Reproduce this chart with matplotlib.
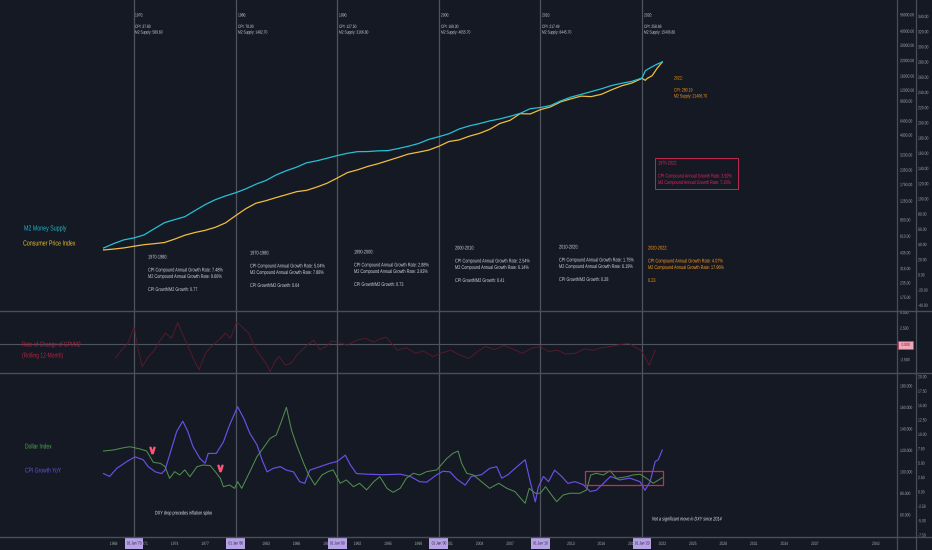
import matplotlib
matplotlib.use("Agg")
import matplotlib.pyplot as plt
from matplotlib.patheffects import AbstractPathEffect
from matplotlib.transforms import Affine2D
from matplotlib.patches import Rectangle
from matplotlib.lines import Line2D

plt.rcParams['font.family'] = ['Liberation Sans', 'DejaVu Sans']

# ---------------- data ----------------
MACRO_YEARS = [1967, 1968, 1969, 1970, 1971, 1972, 1973, 1974, 1975, 1976, 1977, 1978, 1979,
               1980, 1981, 1982, 1983, 1984, 1985, 1986, 1987, 1988, 1989, 1990, 1991, 1992,
               1993, 1994, 1995, 1996, 1997, 1998, 1999, 2000, 2001, 2002, 2003, 2004, 2005,
               2006, 2007, 2008, 2009, 2010, 2011, 2012, 2013, 2014, 2015, 2016, 2017, 2018,
               2019, 2020, 2020.33, 2020.5, 2021, 2021.5, 2022]
M2_SUPPLY = [480.2, 525.0, 567.0, 589.6, 628.0, 712.0, 805.0, 857.0, 909.0, 1030.0, 1163.0,
             1287.0, 1389.0, 1482.7, 1606.0, 1765.0, 1908.0, 2136.0, 2326.0, 2500.0, 2735.0,
             2847.0, 2998.0, 3166.8, 3316.0, 3430.0, 3437.0, 3486.0, 3507.0, 3655.0, 3830.0,
             4050.0, 4400.0, 4655.7, 4945.0, 5450.0, 5805.0, 6080.0, 6420.0, 6690.0, 7050.0,
             7490.0, 8245.0, 8445.7, 8800.0, 9660.0, 10450.0, 11030.0, 11690.0, 12370.0,
             13230.0, 13850.0, 14410.0, 15406.8, 17900.0, 18300.0, 19400.0, 20500.0, 21406.7]
CPI = [32.9, 34.1, 35.6, 37.8, 39.9, 41.2, 42.7, 47.2, 52.3, 55.9, 58.7, 62.7, 68.5,
       78.0, 87.2, 94.4, 97.8, 101.9, 105.7, 109.6, 111.4, 115.7, 120.7, 127.5, 134.7, 138.3,
       142.8, 146.3, 150.5, 154.7, 159.1, 161.6, 164.3, 169.3, 175.6, 177.7, 182.6, 186.3, 191.6,
       199.3, 203.4, 212.2, 211.9, 217.5, 221.2, 227.8, 231.7, 235.3, 234.7, 237.7, 243.6, 248.9,
       252.6, 258.7, 256.1, 258.5, 262.2, 272.2, 280.2]

ROC_YEARS = [1968.2, 1968.8, 1969.4, 1970.0, 1970.4, 1970.8, 1971.4, 1972.0, 1972.5, 1973.1,
             1973.7, 1974.3, 1974.7, 1975.2, 1975.8, 1976.4, 1977.0, 1977.6, 1978.3,
             1979.0, 1979.5, 1980.1, 1980.7, 1981.3, 1981.9, 1982.5, 1983.0, 1983.4, 1983.9,
             1984.3, 1984.9, 1985.5, 1986.0, 1986.5, 1987.1, 1987.7, 1988.3, 1988.9,
             1989.5, 1990.1, 1991.0, 1991.9, 1992.8, 1993.6, 1994.2, 1994.8, 1995.3, 1995.9,
             1996.8, 1997.7, 1998.5, 1999.4, 2000.3, 2001.2, 2002.1, 2003.0, 2003.8, 2004.6,
             2005.5, 2006.4, 2007.3, 2008.2, 2009.1, 2010.0, 2010.8, 2011.7, 2012.5, 2013.4,
             2014.3, 2015.2, 2016.0, 2016.9, 2017.8, 2018.7, 2019.3, 2019.9, 2020.3, 2020.7, 2021.3]
ROC_CPI_M2 = [-2.2, -0.9, 0.1, 2.7, -0.8, -3.6, -2.1, -1.0, 0.4, 1.7,
              0.9, 3.4, 1.8, 0.1, -2.2, -4.1, -1.6, -0.4, 0.6,
              1.7, 0.9, 3.5, 2.6, 1.7, -0.6, -2.0, -3.1, -4.4, -2.7,
              -2.0, -3.4, -3.0, -1.8, -1.0, -0.1, 0.6, -0.9, -0.4,
              0.5, 0.3, -0.2, 0.6, 0.9, 0.3, 0.8, 1.1, 0.2, -1.0,
              -0.6, -1.5, -1.1, -2.0, -1.4, -1.0, -1.8, -2.3, -1.2, -0.4,
              -0.9, -0.2, -0.8, -1.5, -0.7, -0.4, -1.2, -1.0, -1.6, -1.5,
              -0.8, -1.0, -0.6, -0.4, -0.1, 0.1, -0.5, -1.0, -2.1, -3.4, -1.0]

CPI_YOY_YEARS = [1967.0, 1967.6, 1968.3, 1969.3, 1970.1, 1970.9, 1971.4, 1972.1, 1972.7, 1973.05,
                 1973.5, 1974.2, 1974.8, 1975.3, 1975.8, 1976.5, 1977.0, 1977.3, 1978.1, 1978.8,
                 1979.4, 1980.2, 1980.8, 1981.4, 1982.1, 1982.6, 1983.1, 1983.7, 1984.4, 1985.0,
                 1985.7, 1986.3, 1986.8, 1987.3, 1988.3, 1989.3, 1990.0, 1990.8, 1991.3, 1991.9,
                 1992.9, 1994.5, 1996.2, 1997.2, 1998.1, 1998.8, 1999.8, 2000.4, 2001.1, 2001.8,
                 2002.6, 2003.2, 2004.2, 2005.0, 2005.7, 2006.2, 2006.8, 2007.7, 2008.5, 2009.0,
                 2009.5, 2009.8, 2010.3, 2010.8, 2011.4, 2012.1, 2012.7, 2013.4, 2014.2, 2014.9,
                 2015.5, 2016.2, 2016.9, 2017.8, 2018.8, 2019.8, 2020.3, 2020.8, 2021.3, 2021.6, 2022.0]
CPI_YOY = [3.2, 2.7, 4.1, 5.3, 6.1, 5.6, 4.4, 3.5, 3.2, 3.8,
           6.4, 10.5, 12.3, 10.5, 7.9, 5.8, 5.0, 6.7, 6.7, 8.7,
           11.6, 14.8, 12.8, 10.2, 8.2, 5.6, 3.5, 4.1, 4.4, 3.8,
           3.5, 1.8, 1.5, 3.8, 4.4, 5.0, 5.3, 6.4, 4.7, 3.2,
           3.1, 3.0, 3.1, 2.7, 1.8, 1.7, 3.0, 3.6, 3.5, 2.2,
           1.2, 2.7, 3.0, 4.1, 4.4, 2.4, 3.0, 4.4, 5.6, 1.8,
           -1.7, 0.9, 2.7, 1.8, 3.8, 2.7, 1.5, 1.8, 1.3, 0.1,
           0.3, 1.5, 2.7, 2.1, 2.4, 1.8, 0.3, 1.8, 5.3, 5.6, 7.3]

DXY_YEARS = [1967.0, 1968.0, 1969.0, 1969.6, 1970.6, 1971.25, 1971.9, 1972.6, 1973.05, 1973.5,
             1974.0, 1974.5, 1975.0, 1975.5, 1976.2, 1976.8, 1977.5, 1978.0, 1978.5, 1978.8,
             1979.4, 1979.9, 1980.2, 1980.6, 1981.4, 1982.1, 1982.7, 1983.4, 1984.0, 1984.5,
             1985.0, 1985.5, 1986.0, 1986.7, 1987.2, 1987.8, 1988.5, 1989.1, 1989.6, 1990.3,
             1990.9, 1991.6, 1992.2, 1992.9, 1993.6, 1994.2, 1994.9, 1995.5, 1996.2, 1996.8,
             1997.5, 1998.1, 1998.8, 1999.8, 2000.8, 2001.4, 2001.9, 2002.25, 2002.75, 2003.4,
             2004.2, 2005.0, 2005.9, 2006.7, 2007.5, 2008.2, 2008.5, 2008.9, 2009.5, 2010.0,
             2010.5, 2011.1, 2011.6, 2012.25, 2012.9, 2013.9, 2014.55, 2014.95, 2015.5, 2016.2,
             2016.85, 2017.5, 2018.5, 2019.1, 2019.8, 2020.45, 2021.1, 2022.0]
DXY = [119.5, 120.5, 122.6, 123.5, 121.4, 119.5, 109.0, 108.0, 105.0, 94.1,
       100.3, 97.2, 101.9, 95.6, 104.9, 106.5, 105.9, 100.3, 94.1, 86.3,
       87.9, 84.8, 91.0, 84.8, 100.3, 114.2, 122.0, 131.3, 134.4, 146.8,
       160.2, 139.1, 125.1, 108.1, 97.2, 87.9, 97.2, 100.3, 101.9, 89.5,
       92.6, 86.3, 89.5, 83.3, 91.0, 95.6, 84.8, 81.1, 84.8, 94.1,
       98.8, 97.2, 100.3, 101.9, 112.7, 117.4, 119.5, 108.1, 98.8, 97.2,
       91.0, 84.8, 89.5, 84.8, 81.7, 74.0, 70.9, 84.8, 80.2, 80.2,
       86.3, 78.6, 72.4, 78.6, 80.2, 80.2, 83.3, 97.2, 98.8, 97.2,
       101.2, 94.1, 95.6, 97.2, 97.9, 94.1, 89.5, 94.7]

DECADES = [1970, 1980, 1990, 2000, 2010, 2020]
DECADE_CPI = ["37.80", "78.00", "127.50", "169.30", "217.49", "258.69"]
DECADE_M2 = ["589.60", "1482.70", "3166.80", "4655.70", "8445.70", "15406.80"]
DATE_TAGS = ["01 Jan '70", "01 Jan '80", "01 Jan '90", "01 Jan '00", "01 Jan '10", "01 Jan '20"]

PERIODS = ["1970-1980:", "1970-1980:", "1990-2000:", "2000-2010:", "2010-2020:", "2020-2022:"]
CPI_CAGR = ["7.48%", "5.04%", "2.88%", "2.54%", "1.75%", "4.07%"]
M2_CAGR = ["9.66%", "7.88%", "3.93%", "6.14%", "6.19%", "17.96%"]
RATIOS = ["0.77", "0.64", "0.73", "0.41", "0.28", "0.23"]

X_TICK_YEARS = [y for y in range(1968, 2044, 3) if y % 10 != 0]
M2_TICKS = [175, 235, 315, 435, 610, 850, 1250, 1750, 2350, 3200, 4800, 6400, 9600,
            12000, 16000, 22000, 30000, 40000, 56000]
CPI_TICKS = list(range(-40, 341, 20))
ROC_TICKS = [5.0, 2.5, -2.5]
DXY_TICKS = [60, 80, 100, 120, 140, 160, 180]
YOY_TICKS = [-7.5, -5.0, -2.5, 0.0, 2.5, 5.0, 7.5, 10.0, 12.5, 15.0, 17.5, 20.0]

CHEVRON_YEARS = [1971.8, 1978.5]
CHEVRON_DXY = [120.5, 103.7]

# ---------------- style ----------------
W, H = 932, 550
BG = '#151924'
GRID = '#4f535f'
SEP = '#4a4e59'
TXT = '#d1d4dc'
AX_TXT = '#a3a6af'
C_M2 = '#27c0d6'
C_CPI = '#f0bd3e'
C_ROC = '#611a2b'
C_DXY = '#4f8e4d'
C_YOY = '#6a4fe6'
ORANGE = '#ff9a1a'
RED = '#e0245e'
SQ = 0.72


class Squeeze(AbstractPathEffect):
    def __init__(self, sx=SQ, mode='left'):
        super().__init__()
        self.sx = sx
        self.mode = mode

    def draw_path(self, renderer, gc, tpath, affine, rgbFace=None):
        c = 0.0
        if self.mode != 'left':
            ext = tpath.get_extents()
            c = (ext.x0 + ext.x1) / 2 if self.mode == 'center' else ext.x1
        t = Affine2D().translate(-c, 0).scale(self.sx, 1).translate(c, 0) + affine
        renderer.draw_path(gc, tpath, t, rgbFace)


fig = plt.figure(figsize=(W / 100, H / 100), dpi=100, facecolor=BG)


def rect(x0, y0, x1, y1):
    return [x0 / W, 1 - y1 / H, (x1 - x0) / W, (y1 - y0) / H]


XMIN, XMAX = 1956.81, 2045.10
ax_top = fig.add_axes(rect(0, 0, 897, 311))
ax_mid = fig.add_axes(rect(0, 311, 897, 373))
ax_bot = fig.add_axes(rect(0, 373, 897, 537))
ax_m2 = ax_top.twinx()
ax_dxy = ax_bot.twinx()

for a in (ax_top, ax_mid, ax_bot, ax_m2, ax_dxy):
    a.set_xlim(XMIN, XMAX)
    for s in a.spines.values():
        s.set_visible(False)
    a.set_xticks([])
    a.set_yticks([])
    a.minorticks_off()
for a in (ax_top, ax_mid, ax_bot):
    a.set_facecolor(BG)
for a in (ax_m2, ax_dxy):
    a.patch.set_visible(False)

ax_top.set_ylim(-47.4, 361.8)
ax_m2.set_yscale('log')
ax_m2.set_ylim(132.7, 75800)
ax_m2.minorticks_off()
ax_m2.set_yticks([])
ax_mid.set_ylim(-4.62, 5.25)
ax_bot.set_ylim(-7.81, 20.66)
ax_dxy.set_ylim(39.5, 192.1)

for a in (ax_top, ax_mid, ax_bot):
    for d in DECADES:
        a.axvline(d, color=GRID, lw=0.9, zorder=1)
ax_mid.axhline(0, color=GRID, lw=0.8, zorder=1)

# series
ax_top.plot(MACRO_YEARS, CPI, color=C_CPI, lw=0.9, zorder=3)
ax_m2.plot(MACRO_YEARS, M2_SUPPLY, color=C_M2, lw=0.9, zorder=3)
ax_mid.plot(ROC_YEARS, ROC_CPI_M2, color=C_ROC, lw=0.6, zorder=3)
ax_dxy.plot(DXY_YEARS, DXY, color=C_DXY, lw=0.75, zorder=3)
ax_bot.plot(CPI_YOY_YEARS, CPI_YOY, color=C_YOY, lw=0.85, zorder=4)
ax_dxy.plot(CHEVRON_YEARS, CHEVRON_DXY, ls='none', marker=r'$\vee$', ms=4.5,
            color='#ff5277', zorder=5)
ax_dxy.add_patch(Rectangle((2014.4, 87.9), 7.7, 13.0, fill=False, ec='#d02a4e', lw=0.9, zorder=5))


def ftext(px, py, s, size, color, ha='left', va='center', **kw):
    t = fig.text(px / W, 1 - py / H, s, fontsize=size, color=color, ha=ha, va=va, **kw)
    t.set_path_effects([Squeeze(SQ, ha)])
    return t


def block(px, py0, step, lines, size, color):
    for i, s in enumerate(lines):
        if s:
            ftext(px, py0 + i * step, s, size, color)


# decade notes on top
top_px = [135, 238, 339, 441, 542, 644]
for px, d, c, m in zip(top_px, DECADES, DECADE_CPI, DECADE_M2):
    block(px, 15, 5.7, [f"{d}:", "", f"CPI: {c}", f"M2 Supply: {m}"], 3.3, TXT)
block(674, 78, 6.0, ["2022:", "", "CPI: 280.19", "M2 Supply: 21406.70"], 3.5, ORANGE)

# period statistics
blk_px = [148, 250, 354, 455, 559, 648]
blk_py = [257, 253, 252, 248, 247, 248]
for i, (px, py) in enumerate(zip(blk_px, blk_py)):
    last = i == len(blk_px) - 1
    col = ORANGE if last else TXT
    ratio = RATIOS[i] if last else f"CPI Growth/M2 Growth: {RATIOS[i]}"
    block(px, py, 6.5, [PERIODS[i], "",
                        f"CPI Compound Annual Growth Rate: {CPI_CAGR[i]}",
                        f"M2 Compound Annual Growth Rate: {M2_CAGR[i]}", "", ratio],
          3.85, col)

block(658, 163, 6.5, ["1970-2022:", "", "CPI Compound Annual Growth Rate: 3.92%",
                      "M2 Compound Annual Growth Rate: 7.15%"], 3.8, RED)
fig.add_artist(Rectangle((655 / W, 1 - 189 / H), 83 / W, 31 / H, transform=fig.transFigure,
                         fill=False, ec='#c2284f', lw=0.7))

# legends
ftext(24, 229, "M2 Money Supply", 5.3, '#1fb4ca')
ftext(23, 244, "Consumer Price Index", 5.3, '#e8c030')
ftext(22, 345, "Rate of Change of CPI/M2", 5.0, '#b3243f')
ftext(22, 356, "(Rolling 12-Month)", 5.0, '#b3243f')
ftext(25, 447, "Dollar Index", 5.0, '#4fa84c')
ftext(25, 471, "CPI Growth YoY", 5.0, '#6a50d8')
ftext(155, 513, "DXY drop precedes inflation spike", 3.8, '#e6e8ee')
ftext(652, 519, "Not a significant move in DXY since 2014", 3.8, '#e6e8ee', style='italic')


# right scales
def ylabels(ax, values, fmt, px, lo, hi, size=3.4):
    tr = ax.get_yaxis_transform()
    for v in values:
        if lo <= v <= hi:
            t = ax.text(px / 897, v, fmt % v, transform=tr, ha='left', va='center',
                        fontsize=size, color=AX_TXT, clip_on=False)
            t.set_path_effects([Squeeze(SQ, 'left')])


ylabels(ax_m2, M2_TICKS, "%.2f", 900, 140, 70000)
ylabels(ax_top, CPI_TICKS, "%.2f", 918, -45, 355)
ylabels(ax_mid, ROC_TICKS, "%.3f", 900, -4.6, 5.2)
ylabels(ax_dxy, DXY_TICKS, "%.3f", 900, 40, 190)
ylabels(ax_bot, YOY_TICKS, "%.2f", 918, -7.8, 20.6)

fig.add_artist(Rectangle((898 / W, 1 - 348.5 / H), 15 / W, 8 / H, transform=fig.transFigure,
                         fc='#f2a7b8', ec='#d0415f', lw=0.5))
ftext(905.5, 344.5, "0.000", 3.3, '#7a1426', ha='center')

# x axis labels
xtr = ax_bot.get_xaxis_transform()
y_lab = 1 - (543.5 - 373) / 164
for yr in X_TICK_YEARS:
    t = ax_bot.text(yr, y_lab, str(yr), transform=xtr, ha='center', va='center',
                    fontsize=3.4, color=AX_TXT, clip_on=False, zorder=6)
    t.set_path_effects([Squeeze(SQ, 'center')])
y_box0 = 1 - (549 - 373) / 164
y_box1 = 1 - (537.5 - 373) / 164
for d, tag in zip(DECADES, DATE_TAGS):
    ax_bot.add_patch(Rectangle((d - 0.92, y_box0), 1.84, y_box1 - y_box0, transform=xtr,
                               fc='#b6a1e6', ec='none', clip_on=False, zorder=9))
    t = ax_bot.text(d, y_lab, tag, transform=xtr, ha='center', va='center', fontsize=3.2,
                    color='#1b1f2b', clip_on=False, zorder=10)
    t.set_path_effects([Squeeze(SQ, 'center')])

# separators
for py in (311, 373, 537):
    fig.add_artist(Line2D([0, 1], [1 - py / H, 1 - py / H], transform=fig.transFigure,
                          color=SEP, lw=1.0))
for px in (897, 916):
    fig.add_artist(Line2D([px / W, px / W], [0, 1], transform=fig.transFigure,
                          color=SEP, lw=0.9))

fig.savefig("out.png", dpi=100, facecolor=BG)
